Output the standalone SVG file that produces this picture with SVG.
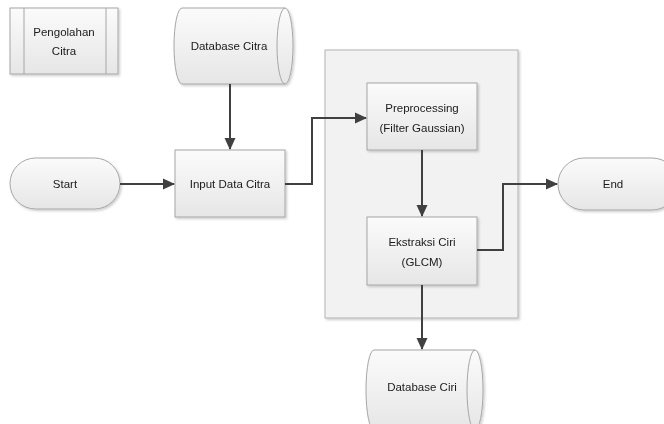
<svg xmlns="http://www.w3.org/2000/svg" width="664" height="424" viewBox="0 0 664 424">
<style>
.shape{fill:url(#g);stroke:#a6a6a6;stroke-width:1}
.cont{fill:#f2f2f2;stroke:#b3b3b3;stroke-width:1}
.line{fill:none;stroke:#404040;stroke-width:2}
.inner{fill:none;stroke:#a6a6a6;stroke-width:1}
text{font-family:"Liberation Sans",Arial,sans-serif;font-size:11.5px;fill:#1a1a1a;text-anchor:middle;dominant-baseline:central}
</style>
<defs>
<linearGradient id="g" x1="0" y1="0" x2="0" y2="1">
<stop offset="0" stop-color="#fbfbfb"/>
<stop offset="1" stop-color="#e6e6e6"/>
</linearGradient>
<filter id="sh" x="-10%" y="-10%" width="130%" height="130%">
<feDropShadow dx="1.5" dy="1.5" stdDeviation="1" flood-color="#000" flood-opacity="0.2"/>
</filter>
<marker id="ah" markerWidth="12" markerHeight="12" refX="11" refY="6" orient="auto" markerUnits="userSpaceOnUse">
<path d="M0,0.5 L12,6 L0,11.5 Z" fill="#404040"/>
</marker>
</defs>
<rect width="664" height="424" fill="#fff"/>
<g id="container" filter="url(#sh)">
<rect class="cont" x="325" y="50" width="193" height="268"/>
</g>
<g id="pengolahan" filter="url(#sh)">
<rect class="shape" x="10" y="8" width="108" height="66"/>
<line class="inner" x1="24" y1="8" x2="24" y2="74"/>
<line class="inner" x1="106" y1="8" x2="106" y2="74"/>
<text x="64" y="32">Pengolahan</text>
<text x="64" y="51">Citra</text>
</g>
<g id="dbcitra" filter="url(#sh)">
<path class="shape" d="M182,8 L285,8 A8,38 0 0 1 285,84 L182,84 A8,38 0 0 1 182,8 Z"/>
<path class="inner" d="M285,8 A8,38 0 0 0 285,84"/>
<text x="229" y="46">Database Citra</text>
</g>
<g id="start" filter="url(#sh)">
<rect class="shape" x="10" y="158" width="110" height="51" rx="25.5" ry="25.5"/>
<text x="65" y="184">Start</text>
</g>
<g id="input" filter="url(#sh)">
<rect class="shape" x="175" y="150" width="110" height="67"/>
<text x="230" y="184">Input Data Citra</text>
</g>
<g id="preprocessing" filter="url(#sh)">
<rect class="shape" x="367" y="83" width="110" height="67"/>
<text x="422" y="108">Preprocessing</text>
<text x="422" y="128">(Filter Gaussian)</text>
</g>
<g id="ekstraksi" filter="url(#sh)">
<rect class="shape" x="367" y="217" width="110" height="68"/>
<text x="422" y="242">Ekstraksi Ciri</text>
<text x="422" y="262">(GLCM)</text>
</g>
<g id="end" filter="url(#sh)">
<rect class="shape" x="558" y="158" width="120" height="52" rx="26" ry="26"/>
<text x="613" y="184">End</text>
</g>
<g id="dbciri" filter="url(#sh)">
<path class="shape" d="M374,350 L475,350 A8,40 0 0 1 475,430 L374,430 A8,40 0 0 1 374,350 Z"/>
<path class="inner" d="M475,350 A8,40 0 0 0 475,430"/>
<text x="422" y="387">Database Ciri</text>
</g>
<g id="connectors">
<path class="line" d="M230,84 V149" marker-end="url(#ah)"/>
<path class="line" d="M120,184 H174" marker-end="url(#ah)"/>
<path class="line" d="M285,184 H312 V118 H366" marker-end="url(#ah)"/>
<path class="line" d="M422,150 V216" marker-end="url(#ah)"/>
<path class="line" d="M477,250 H503 V184 H557" marker-end="url(#ah)"/>
<path class="line" d="M422,285 V349" marker-end="url(#ah)"/>
</g>
</svg>
